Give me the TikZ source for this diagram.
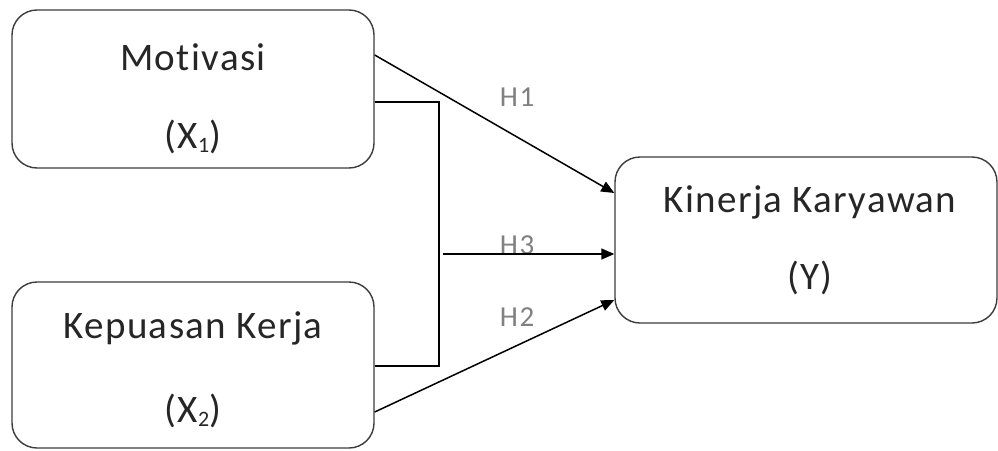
\documentclass[tikz,border=0pt]{standalone}
\usepackage{fontspec}
\setmainfont{Carlito}[Ligatures={NoCommon}]
\usetikzlibrary{arrows.meta}
\definecolor{lbl}{RGB}{128,128,128}
\definecolor{edge}{RGB}{60,60,60}
\tikzset{
  box/.style={draw=edge, line width=1.4pt, rounded corners=25pt, inner sep=0pt},
  maintxt/.style={font=\fontsize{39}{41}\selectfont\addfontfeatures{LetterSpace=3.5}, text=black!85, inner sep=0pt, anchor=center},
  hlbl/.style={font=\fontsize{29}{31}\selectfont\addfontfeatures{LetterSpace=6}, text=lbl, inner sep=0pt, anchor=center},
  conn/.style={line width=1.5pt, draw=black},
  arr/.style={conn, -{Triangle[length=13pt,width=11pt]}}
}
\newcommand{\mysub}[1]{\raisebox{-0.2ex}{\fontsize{22}{24}\selectfont #1}}
\begin{document}
\begin{tikzpicture}[x=1pt,y=-1pt]
\useasboundingbox (0,0) rectangle (998,450);
\node[box, minimum width=362pt, minimum height=158pt] (b1) at (193,89) {};
\node[box, minimum width=362pt, minimum height=166pt] (b2) at (193,365) {};
\node[box, minimum width=382pt, minimum height=166pt] (b3) at (806,240) {};
\node[maintxt] (t1) at (193,57) {Motivasi};
\node[maintxt] (t1b) at (193,137) {(X\mysub{1})};
\node[maintxt] (t2) at (193,328) {Kepuasan Kerja};
\node[maintxt] (t2b) at (193,411) {(X\mysub{2})};
\node[maintxt] (t3) at (810,202) {Kinerja Karyawan};
\node[maintxt] (t3b) at (810,278) {(Y)};
\node[hlbl] (h1) at (517,97) {H1};
\node[hlbl] (h3) at (517,245) {H3};
\node[hlbl] (h2) at (517,317) {H2};
\coordinate (j) at (443,254);
\draw[arr] ([yshift=34pt]b1.east) -- ([yshift=47pt]b3.west);
\draw[conn] ([yshift=-13pt]b1.east) -| (439,366) -- ([yshift=-1pt]b2.east);
\draw[arr] (j) -- ([yshift=-14pt]b3.west);
\draw[arr] ([yshift=-47pt]b2.east) -- ([yshift=-60pt]b3.west);
\end{tikzpicture}
\end{document}
